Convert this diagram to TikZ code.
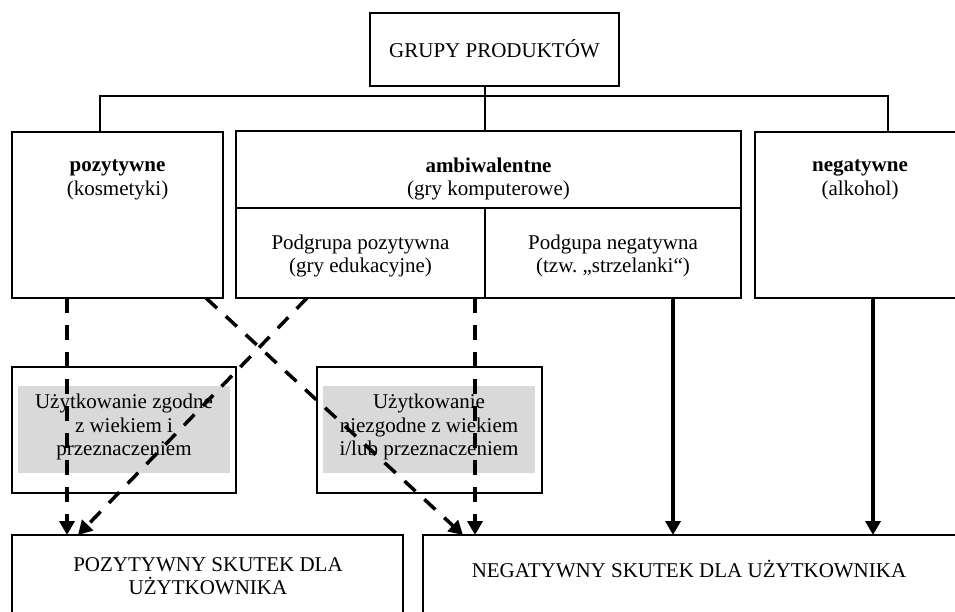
\documentclass[tikz,border=0pt]{standalone}
\usepackage{fontspec}
\setmainfont{Liberation Serif}
\usetikzlibrary{arrows.meta}
\definecolor{fillgrey}{RGB}{217,217,217}
\frenchspacing
\begin{document}
\begin{tikzpicture}[x=1pt,y=-1pt,
  box/.style={draw, line width=1.2pt, inner sep=0pt, outer sep=0pt, anchor=north west},
  greybox/.style={fill=fillgrey, inner sep=0pt, outer sep=0pt, anchor=north west},
  lbl/.style={align=center, font=\fontsize{21}{23.5}\selectfont, inner sep=0pt},
  tree/.style={line width=1.2pt},
  dasharrow/.style={line width=3.5pt, dash pattern=on 15pt off 12pt, -{Triangle[width=15pt,length=14pt]}},
  solidarrow/.style={line width=3.5pt, -{Triangle[width=15pt,length=14pt]}},
]
\useasboundingbox (0,0) rectangle (955,612);
\clip (0,0) rectangle (955,612);

% boxes
\node[box, minimum width=249pt, minimum height=73pt] (top) at (370,13) {};
\node[box, minimum width=211pt, minimum height=166pt] (pos) at (12,132) {};
\node[box, minimum width=505pt, minimum height=77pt] (amb) at (236,131) {};
\node[box, minimum width=249pt, minimum height=90pt] (ambpos) at (236,208) {};
\node[box, minimum width=256pt, minimum height=90pt] (ambneg) at (485,208) {};
\node[box, minimum width=215pt, minimum height=166pt] (neg) at (755,132) {};
\node[box, minimum width=224pt, minimum height=126pt] (smallL) at (12,367) {};
\node[box, minimum width=225pt, minimum height=126pt] (smallR) at (317,367) {};
\node[greybox, minimum width=212pt, minimum height=87pt] (greyL) at (18,386) {};
\node[greybox, minimum width=212pt, minimum height=87pt] (greyR) at (323,386) {};
\node[box, minimum width=391pt, minimum height=100pt] (botL) at (12,535) {};
\node[box, minimum width=550pt, minimum height=100pt] (botR) at (423,535) {};

% labels
\node[lbl] (topT) at (494.5,49) {GRUPY PRODUKTÓW};
\node[lbl] (posT) at (117.5,180) {\textbf{pozytywne}\\(kosmetyki)};
\node[lbl] (ambT) at (488.5,179) {\textbf{ambiwalentne}\\(gry komputerowe)};
\node[lbl] (negT) at (860,180) {\textbf{negatywne}\\(alkohol)};
\node[lbl] (ambposT) at (360.5,256) {Podgrupa pozytywna\\(gry edukacyjne)};
\node[lbl] (ambnegT) at (613,256) {Podgupa negatywna\\(tzw.\ „strzelanki“)};
\node[lbl] (smallLT) at (124,427) {Użytkowanie zgodne\\z wiekiem i\\przeznaczeniem};
\node[lbl] (smallRT) at (429,427) {Użytkowanie\\niezgodne z wiekiem\\i/lub przeznaczeniem};
\node[lbl] (botLT) at (208,576) {POZYTYWNY SKUTEK DLA\\UŻYTKOWNIKA};
\node[lbl] (botRT) at (689,569) {NEGATYWNY SKUTEK DLA UŻYTKOWNIKA};

% tree connectors
\coordinate (xt) at (485,0);
\coordinate (xp) at (100,0);
\coordinate (xn) at (888,0);
\coordinate (hub) at (485,96);
\draw[tree] (top.south -| xt) -- (hub);
\draw[tree] (pos.north -| xp) |- (hub) -| (neg.north -| xn);
\draw[tree] (hub) -- (amb.north -| xt);

% arrows
\coordinate (xa) at (67,0);
\coordinate (xb) at (206,0);
\coordinate (xc) at (463,0);
\coordinate (xd) at (307,0);
\coordinate (xe) at (78,0);
\coordinate (xf) at (475,0);
\coordinate (xg) at (673,0);
\coordinate (xh) at (873,0);
\draw[dasharrow] (pos.south -| xa) -- (botL.north -| xa);
\draw[dasharrow] (pos.south -| xb) -- (botR.north -| xc);
\draw[dasharrow] (ambpos.south -| xd) -- (botL.north -| xe);
\draw[dasharrow] (ambpos.south -| xf) -- (botR.north -| xf);
\draw[solidarrow] (ambneg.south -| xg) -- (botR.north -| xg);
\draw[solidarrow] (neg.south -| xh) -- (botR.north -| xh);
\end{tikzpicture}
\end{document}
